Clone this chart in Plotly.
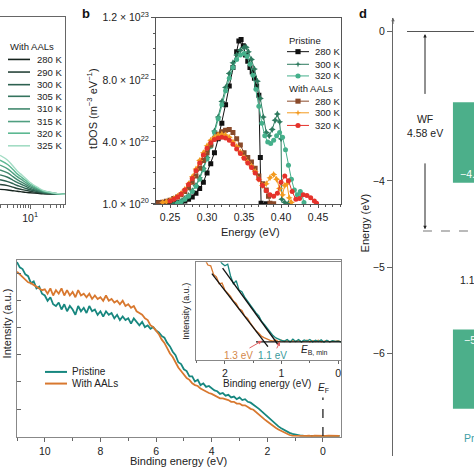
import numpy as np
import plotly.graph_objects as go

W = H = 474
FONT = "Liberation Sans, Arial, sans-serif"


def px(x):
    return x / W


def py(y):
    return 1 - y / H


# ---------------- panel a (only right part visible) ----------------
a_time = [2, 3, 4, 5, 6, 8, 10, 15, 20, 30, 40, 50, 65]
a_labels = ["280 K", "290 K", "300 K", "305 K", "310 K", "315 K", "320 K", "325 K"]
a_280 = [0.078, 0.075, 0.071, 0.068, 0.066, 0.062, 0.060, 0.057, 0.055, 0.053, 0.053, 0.052, 0.052]
a_290 = [0.104, 0.098, 0.090, 0.083, 0.079, 0.073, 0.068, 0.061, 0.057, 0.055, 0.053, 0.052, 0.052]
a_300 = [0.130, 0.120, 0.109, 0.099, 0.093, 0.083, 0.076, 0.066, 0.060, 0.056, 0.054, 0.053, 0.052]
a_305 = [0.156, 0.143, 0.127, 0.115, 0.107, 0.094, 0.084, 0.071, 0.063, 0.058, 0.054, 0.053, 0.052]
a_310 = [0.182, 0.166, 0.146, 0.130, 0.120, 0.104, 0.091, 0.075, 0.065, 0.059, 0.055, 0.053, 0.052]
a_315 = [0.208, 0.188, 0.165, 0.146, 0.134, 0.114, 0.099, 0.080, 0.068, 0.060, 0.056, 0.054, 0.052]
a_320 = [0.234, 0.211, 0.184, 0.161, 0.147, 0.125, 0.107, 0.084, 0.070, 0.062, 0.056, 0.054, 0.052]
a_325 = [0.260, 0.234, 0.203, 0.177, 0.161, 0.135, 0.115, 0.089, 0.073, 0.063, 0.057, 0.054, 0.052]
a_series = [a_280, a_290, a_300, a_305, a_310, a_315, a_320, a_325]
a_colors = ["#16241e", "#27443a", "#2d6150", "#35735e", "#43896f", "#4f9f80", "#5cb892", "#a3dcc4"]

# ---------------- panel b (tDOS, units of 1e22) ----------------
b_p280_E = [0.230, 0.235, 0.240, 0.245, 0.250, 0.255, 0.260, 0.265, 0.270, 0.275, 0.280, 0.285, 0.290,
            0.295, 0.300, 0.305, 0.310, 0.315, 0.320, 0.325, 0.330, 0.335, 0.340, 0.343, 0.346, 0.349,
            0.352, 0.355, 0.358, 0.361, 0.364, 0.367, 0.370, 0.372, 0.373, 0.380]
b_p280_v = [0.08, 0.08, 0.06, 0.05, 0.05, 0.06, 0.08, 0.12, 0.2, 0.3, 0.45, 0.7, 1.0,
            1.4, 2.0, 2.6, 3.3, 4.2, 5.2, 6.4, 7.6, 8.8, 9.8, 10.5, 10.6, 10.2,
            9.6, 9.2, 8.8, 8.5, 8.1, 7.6, 7.0, 3.0, 0.05, 0.02]
b_p300_E = [0.255, 0.260, 0.265, 0.270, 0.275, 0.280, 0.285, 0.290, 0.295, 0.300, 0.305, 0.310, 0.315,
            0.320, 0.325, 0.330, 0.335, 0.340, 0.345, 0.350, 0.353, 0.356, 0.360, 0.364, 0.368, 0.372,
            0.376, 0.380, 0.384, 0.388, 0.392, 0.395, 0.398, 0.400, 0.401, 0.405, 0.410]
b_p300_v = [0.02, 0.08, 0.2, 0.35, 0.55, 0.85, 1.2, 1.7, 2.3, 3.0, 3.8, 4.7, 5.6,
            6.6, 7.5, 8.4, 9.1, 9.6, 9.9, 10.1, 10.1, 9.8, 9.3, 8.7, 7.9, 6.8,
            5.6, 4.6, 4.4, 4.8, 5.4, 5.8, 5.3, 4.2, 0.3, 0.1, 0.05]
b_p320_E = [0.260, 0.265, 0.270, 0.275, 0.280, 0.285, 0.290, 0.295, 0.300, 0.305, 0.310, 0.315, 0.320,
            0.325, 0.330, 0.335, 0.340, 0.345, 0.350, 0.354, 0.358, 0.362, 0.366, 0.370, 0.374, 0.378,
            0.382, 0.386, 0.390, 0.394, 0.398, 0.402, 0.406, 0.410, 0.414, 0.418, 0.422, 0.426, 0.428, 0.431]
b_p320_v = [0.05, 0.15, 0.3, 0.5, 0.8, 1.15, 1.6, 2.2, 2.9, 3.7, 4.6, 5.5, 6.4,
            7.3, 8.1, 8.8, 9.3, 9.6, 9.7, 9.5, 9.0, 8.3, 7.4, 6.3, 5.2, 4.4,
            4.0, 3.9, 4.1, 4.4, 4.6, 4.3, 3.5, 2.5, 1.6, 0.9, 0.6, 0.8, 0.6, 0.1]
b_a280_E = [0.230, 0.235, 0.240, 0.245, 0.250, 0.255, 0.260, 0.265, 0.270, 0.275, 0.280, 0.285, 0.290,
            0.295, 0.300, 0.305, 0.310, 0.315, 0.320, 0.325, 0.330, 0.335, 0.340, 0.345, 0.350, 0.355,
            0.360, 0.365, 0.370, 0.375, 0.380, 0.383, 0.385, 0.390]
b_a280_v = [0.05, 0.08, 0.12, 0.18, 0.25, 0.35, 0.45, 0.6, 0.8, 1.05, 1.4, 1.8, 2.3,
            2.8, 3.3, 3.8, 4.2, 4.5, 4.65, 4.75, 4.8, 4.6, 4.2, 3.8, 3.3, 3.0,
            2.7, 2.3, 1.8, 1.3, 0.9, 0.5, 0.05, 0.02]
b_a300_E = [0.240, 0.245, 0.250, 0.255, 0.260, 0.265, 0.270, 0.275, 0.280, 0.285, 0.290, 0.295, 0.300,
            0.305, 0.310, 0.315, 0.320, 0.325, 0.330, 0.335, 0.340, 0.345, 0.350, 0.355, 0.360, 0.365,
            0.370, 0.375, 0.380, 0.385, 0.390, 0.394, 0.398, 0.402, 0.405, 0.408, 0.411, 0.414]
b_a300_v = [0.1, 0.15, 0.25, 0.35, 0.5, 0.7, 0.95, 1.3, 1.75, 2.25, 2.8, 3.3, 3.75,
            4.1, 4.3, 4.45, 4.5, 4.45, 4.3, 4.0, 3.7, 3.35, 3.0, 2.7, 2.45, 2.1,
            1.6, 1.2, 1.3, 1.7, 1.9, 1.6, 1.0, 0.6, 1.2, 1.3, 0.4, 0.1]
b_a320_E = [0.250, 0.255, 0.260, 0.265, 0.270, 0.275, 0.280, 0.285, 0.290, 0.295, 0.300, 0.305, 0.310,
            0.315, 0.320, 0.325, 0.330, 0.335, 0.340, 0.345, 0.350, 0.355, 0.360, 0.365, 0.370, 0.375,
            0.380, 0.385, 0.390, 0.395, 0.400, 0.405, 0.410, 0.415, 0.420, 0.425, 0.430, 0.435, 0.440,
            0.445, 0.448]
b_a320_v = [0.2, 0.3, 0.45, 0.65, 0.9, 1.25, 1.65, 2.15, 2.65, 3.15, 3.6, 3.95, 4.15,
            4.25, 4.3, 4.25, 4.1, 3.85, 3.55, 3.25, 2.95, 2.65, 2.35, 2.0, 1.6, 1.2,
            0.85, 0.6, 0.5, 0.7, 1.4, 1.8, 1.5, 0.8, 0.3, 0.35, 0.6, 0.55, 0.4,
            0.2, 0.05]
b_ticks = [0.01, 4, 8, 12]
b_ticktext = ["1.0 × 10<sup>20</sup>", "4.0 × 10<sup>22</sup>", "8.0 × 10<sup>22</sup>", "1.2 × 10<sup>23</sup>"]

# ---------------- panel c (UPS spectra, 0.1 eV grid from 11.0 eV) ----------------
c_pristine = [0.99, 0.96, 0.95, 0.92, 0.91, 0.87, 0.88, 0.84, 0.85, 0.81,
              0.80, 0.77, 0.79, 0.75, 0.74, 0.76, 0.72, 0.75, 0.71, 0.74,
              0.72, 0.69, 0.74, 0.71, 0.73, 0.70, 0.74, 0.71, 0.72, 0.69,
              0.71, 0.68, 0.71, 0.69, 0.70, 0.67, 0.69, 0.66, 0.68, 0.66,
              0.67, 0.64, 0.67, 0.65, 0.63, 0.65, 0.62, 0.63, 0.61, 0.62,
              0.60, 0.59, 0.57, 0.56, 0.53, 0.51, 0.48, 0.46, 0.42, 0.41,
              0.38, 0.37, 0.34, 0.34, 0.31, 0.32, 0.29, 0.30, 0.28, 0.285,
              0.27, 0.26, 0.255, 0.24, 0.245, 0.23, 0.235, 0.22, 0.225, 0.21,
              0.22, 0.205, 0.21, 0.195, 0.19, 0.18, 0.165, 0.155, 0.14, 0.125,
              0.11, 0.095, 0.08, 0.065, 0.055, 0.045, 0.035, 0.025, 0.018, 0.012,
              0.008, 0.005, 0.003, 0.002,
              0.002, 0.0, 0.001, 0.0, 0.002, 0.001, 0.0, 0.001, 0.002, 0.0, 0.001, 0.0, 0.001]
c_aals = [0.935, 0.92, 0.90, 0.89, 0.875, 0.87, 0.86, 0.85, 0.84, 0.83,
          0.835, 0.81, 0.84, 0.80, 0.83, 0.81, 0.84, 0.80, 0.83, 0.80,
          0.82, 0.79, 0.83, 0.80, 0.81, 0.79, 0.81, 0.78, 0.80, 0.78,
          0.79, 0.77, 0.80, 0.77, 0.78, 0.76, 0.77, 0.75, 0.77, 0.74,
          0.75, 0.73, 0.74, 0.71, 0.70, 0.69, 0.67, 0.66, 0.63, 0.62,
          0.60, 0.58, 0.55, 0.53, 0.50, 0.47, 0.45, 0.42, 0.39, 0.37,
          0.35, 0.33, 0.32, 0.30, 0.29, 0.285, 0.27, 0.26, 0.25, 0.245,
          0.24, 0.23, 0.225, 0.215, 0.215, 0.21, 0.205, 0.195, 0.195, 0.185,
          0.185, 0.175, 0.175, 0.165, 0.155, 0.15, 0.135, 0.12, 0.11, 0.095,
          0.083, 0.07, 0.058, 0.047, 0.037, 0.03, 0.02, 0.012, 0.006, 0.003,
          0.002, 0.003, 0.001, 0.002,
          0.001, 0.003, 0.0, 0.002, 0.001, 0.002, 0.0, 0.001, 0.002, 0.001, 0.0, 0.002, 0.001]
c_be = np.round(11.0 - 0.1 * np.arange(len(c_pristine)), 2)
c_ticks = [0, 2, 4, 6, 8, 10]

# inset (0.05 eV grid from 2.5 eV)
i_pristine = [1.4, 1.35, 1.3, 1.25, 1.2, 1.15, 1.12, 1.08, 1.05, 1.0,
              0.97, 0.99, 0.84, 0.74, 0.78, 0.66, 0.64, 0.57, 0.52, 0.46,
              0.42, 0.37, 0.33, 0.26, 0.22, 0.17, 0.12, 0.08, 0.05, 0.03, 0.02,
              0.01, 0.03, 0.0, 0.035, 0.005, 0.03, 0.0, 0.025, 0.01, 0.03,
              0.0, 0.02, 0.005, 0.025, -0.005, 0.02, 0.0, 0.015, 0.005, 0.01, 0.0]
i_aals = [1.25, 1.18, 1.1, 1.05, 0.98, 0.97, 0.86, 0.83, 0.74, 0.75,
          0.66, 0.62, 0.58, 0.52, 0.49, 0.42, 0.40, 0.33, 0.30, 0.24,
          0.19, 0.14, 0.11, 0.07, 0.05, 0.03, 0.02, 0.01, 0.025, 0.0, 0.02,
          0.005, 0.02, 0.0, 0.015, 0.005, 0.02, 0.0, 0.01, 0.02, 0.0,
          0.015, 0.005, 0.02, 0.0, 0.01, 0.015, 0.0, 0.01, 0.005, 0.015, 0.0]
i_be = np.round(2.5 - 0.05 * np.arange(len(i_pristine)), 3)
i_fit_pristine_E = [2.04, 1.06]
i_fit_pristine_v = [0.94, -0.037]
i_fit_aals_E = [2.23, 1.24]
i_fit_aals_v = [0.87, -0.06]
i_base_E = [1.45, -0.05]
i_base_v = [0.0, 0.0]

# ---------------- panel d (energy levels, eV) ----------------
d_vacuum = 0.0
d_fermi = -4.58
d_lumo = -4.02
d_homo = -5.72
d_ticks = [0, -4, -5, -6]


def disp(e):
    # broken axis: 0..-4 compressed
    if e >= -4:
        return -4 + (e + 4) * 0.4325
    return e


TEAL = "#17877f"
ORANGE = "#d8782f"
GREEN_BOX = "#4caf8a"

fig = go.Figure()

# panel a traces
for vals, col in zip(a_series, a_colors):
    fig.add_trace(go.Scatter(x=a_time, y=vals, mode="lines", line=dict(color=col, width=1.4, shape="spline"),
                             xaxis="x", yaxis="y", showlegend=False, hoverinfo="skip"))

# panel b traces
b_specs = [
    (b_p280_E, b_p280_v, "#111111", "square"),
    (b_p300_E, b_p300_v, "#2d7a5e", "star-diamond"),
    (b_p320_E, b_p320_v, "#45b08b", "circle"),
    (b_a280_E, b_a280_v, "#8a4a2a", "square"),
    (b_a300_E, b_a300_v, "#f39a1f", "star-diamond"),
    (b_a320_E, b_a320_v, "#e5322b", "circle"),
]
for E, v, col, sym in b_specs:
    fig.add_trace(go.Scatter(x=E, y=v, mode="lines+markers", line=dict(color=col, width=1),
                             marker=dict(symbol=sym, size=5, color=col, line=dict(width=0)),
                             xaxis="x2", yaxis="y2", showlegend=False, hoverinfo="skip"))

# panel c traces
fig.add_trace(go.Scatter(x=c_be, y=c_pristine, mode="lines", line=dict(color=TEAL, width=1.8),
                         xaxis="x3", yaxis="y3", showlegend=False, hoverinfo="skip"))
fig.add_trace(go.Scatter(x=c_be, y=c_aals, mode="lines", line=dict(color=ORANGE, width=1.8),
                         xaxis="x3", yaxis="y3", showlegend=False, hoverinfo="skip"))
fig.add_trace(go.Scatter(x=[0, 0], y=[0, 0.22], mode="lines", line=dict(color="#222", width=1.3, dash="dash"),
                         xaxis="x3", yaxis="y3", showlegend=False, hoverinfo="skip"))

# inset traces
fig.add_trace(go.Scatter(x=i_be, y=i_aals, mode="lines", line=dict(color=ORANGE, width=1.3),
                         xaxis="x4", yaxis="y4", showlegend=False, hoverinfo="skip"))
fig.add_trace(go.Scatter(x=i_be, y=i_pristine, mode="lines", line=dict(color=TEAL, width=1.3),
                         xaxis="x4", yaxis="y4", showlegend=False, hoverinfo="skip"))
for E, v in [(i_fit_pristine_E, i_fit_pristine_v), (i_fit_aals_E, i_fit_aals_v), (i_base_E, i_base_v)]:
    fig.add_trace(go.Scatter(x=E, y=v, mode="lines", line=dict(color="#111", width=1.3),
                             xaxis="x4", yaxis="y4", showlegend=False, hoverinfo="skip"))

fig.add_trace(go.Scatter(x=[0], y=[disp(0)], mode="markers", marker=dict(size=1, color="rgba(0,0,0,0)"),
                         xaxis="x5", yaxis="y5", showlegend=False, hoverinfo="skip"))

AX = dict(showgrid=False, zeroline=False, tickfont=dict(family=FONT, size=10.5, color="#222"))

fig.update_layout(
    width=W, height=H, margin=dict(l=0, r=0, t=0, b=0),
    paper_bgcolor="white", plot_bgcolor="rgba(0,0,0,0)",
    font=dict(family=FONT, size=10.5, color="#222"),
    xaxis=dict(AX, domain=[0, px(65)], type="log", range=[0.3, 1.81], anchor="y",
               showline=True, linecolor="#666", linewidth=1, mirror=True,
               ticks="outside", ticklen=4, tickcolor="#666", tickvals=[10], ticktext=["10<sup>1</sup>"],
               minor=dict(ticks="outside", ticklen=2.5, tickcolor="#666",
                          tickvals=[2, 3, 4, 5, 6, 7, 8, 9, 20, 30, 40, 50, 60])),
    yaxis=dict(AX, domain=[py(202), py(9)], range=[0, 1], anchor="x", showline=True, linecolor="#666",
               mirror=True, showticklabels=False, ticks=""),
    xaxis2=dict(AX, domain=[px(156), px(341)], range=[0.231, 0.481], anchor="y2",
                showline=True, linecolor="#555", mirror=True, ticks="outside", ticklen=3, tickcolor="#555",
                tick0=0.25, dtick=0.05, tickformat=".2f",
                minor=dict(ticks="outside", ticklen=2, tickcolor="#555", tick0=0.25, dtick=0.01)),
    yaxis2=dict(AX, domain=[py(202), py(10)], range=[0, 12], anchor="x2",
                showline=True, linecolor="#555", mirror=True, ticks="outside", ticklen=4, tickcolor="#555",
                tickvals=b_ticks, ticktext=b_ticktext,
                minor=dict(ticks="outside", ticklen=2, tickcolor="#555", tick0=0, dtick=1)),
    xaxis3=dict(AX, domain=[px(17), px(341)], range=[11.0, -0.65], anchor="y3",
                showline=True, linecolor="#888", mirror=True, ticks="outside", ticklen=4, tickcolor="#666",
                tickvals=c_ticks,
                minor=dict(ticks="outside", ticklen=3, tickcolor="#666", tickvals=[1, 3, 5, 7, 9, 11])),
    yaxis3=dict(AX, domain=[py(442), py(260)], range=[-0.005, 1.0], anchor="x3",
                showline=True, linecolor="#888", mirror=True, ticks="inside", ticklen=4, tickcolor="#666",
                showticklabels=False, tick0=0, dtick=0.154),
    xaxis4=dict(AX, domain=[px(196), px(341)], range=[2.51, -0.05], anchor="y4",
                showline=True, linecolor="#888", mirror=True, ticks="outside", ticklen=3, tickcolor="#666",
                tickvals=[2, 1, 0],
                minor=dict(ticks="outside", ticklen=2, tickcolor="#666", tickvals=[2.5, 1.5, 0.5])),
    yaxis4=dict(AX, domain=[py(363), py(262)], range=[-0.235, 1.015], anchor="x4",
                showline=True, linecolor="#888", mirror=True, ticks="", showticklabels=False),
    xaxis5=dict(domain=[px(393), 1], range=[0, 1], anchor="y5", visible=False),
    yaxis5=dict(AX, domain=[py(462), py(10)], range=[-7.19, -2.11], anchor="x5",
                showline=True, linecolor="#666", linewidth=1.2, ticks="outside", ticklen=5, tickcolor="#666",
                tickvals=[disp(t) for t in d_ticks], ticktext=["0", "−4", "−5", "−6"]),
)

shapes = []
annotations = []


def ann(x, y, text, size=10.5, color="#222", xanchor="center", yanchor="middle", **kw):
    annotations.append(dict(xref="paper", yref="paper", x=px(x), y=py(y), text=text, showarrow=False,
                            font=dict(family=FONT, size=size, color=color), xanchor=xanchor,
                            yanchor=yanchor, **kw))


# panel labels
ann(86, 6, "<b>b</b>", size=13, color="#111")
ann(363, 6, "<b>d</b>", size=13, color="#111")

# panel a legend
ann(8, 40, "With AALs", size=9.5, xanchor="left")
a_leg_y = [53, 66, 79, 91, 104, 117, 129, 142]
for lab, col, yy in zip(a_labels, a_colors, a_leg_y):
    shapes.append(dict(type="line", xref="paper", yref="paper", x0=px(8), x1=px(30), y0=py(yy), y1=py(yy),
                       line=dict(color=col, width=1.6)))
    ann(35, yy, lab, size=9.5, xanchor="left")

# panel b legend
ann(287, 33, "Pristine", size=9.5, xanchor="left")
ann(287, 83, "With AALs", size=9.5, xanchor="left")
b_leg_y = [45, 58, 70, 96, 108, 121]
b_leg_lab = ["280 K", "300 K", "320 K", "280 K", "300 K", "320 K"]
for (E, v, col, sym), yy, lab in zip(b_specs, b_leg_y, b_leg_lab):
    shapes.append(dict(type="line", xref="paper", yref="paper", x0=px(287), x1=px(309), y0=py(yy), y1=py(yy),
                       line=dict(color=col, width=1)))
    cx, r = 298, 2.6
    if sym == "square":
        shapes.append(dict(type="rect", xref="paper", yref="paper", x0=px(cx - r), x1=px(cx + r),
                           y0=py(yy + r), y1=py(yy - r), fillcolor=col, line=dict(width=0)))
    elif sym == "circle":
        shapes.append(dict(type="circle", xref="paper", yref="paper", x0=px(cx - r), x1=px(cx + r),
                           y0=py(yy + r), y1=py(yy - r), fillcolor=col, line=dict(width=0)))
    else:
        q = r + 0.6
        s = 0.8
        path = (f"M {px(cx)} {py(yy - q)} L {px(cx + s)} {py(yy - s)} L {px(cx + q)} {py(yy)} "
                f"L {px(cx + s)} {py(yy + s)} L {px(cx)} {py(yy + q)} L {px(cx - s)} {py(yy + s)} "
                f"L {px(cx - q)} {py(yy)} L {px(cx - s)} {py(yy - s)} Z")
        shapes.append(dict(type="path", xref="paper", yref="paper", path=path, fillcolor=col,
                           line=dict(width=0)))
    ann(313, yy, lab, size=9.5, xanchor="left")

# panel b axis titles
ann(250, 231, "Energy (eV)", size=11)
ann(92, 104, "tDOS (m<sup>−3</sup> eV<sup>−1</sup>)", size=11, textangle=-90)

# panel c legend + titles
for yy, col, lab in [(375, TEAL, "Pristine"), (387, ORANGE, "With AALs")]:
    shapes.append(dict(type="line", xref="paper", yref="paper", x0=px(45), x1=px(67), y0=py(yy), y1=py(yy),
                       line=dict(color=col, width=2)))
    ann(70, yy, lab, size=10, xanchor="left")
ann(178, 467, "Binding energy (eV)", size=11)
ann(7, 325, "Intensity (a.u.)", size=11, textangle=-90)
ann(323, 392, "<i>E</i><sub>F</sub>", size=10)

# inset texts
ann(186, 313, "Intensity (a.u.)", size=9, textangle=-90)
ann(267, 387, "Binding energy (eV)", size=10)
ann(238, 358, "1.3 eV", size=10, color="#d4884a")
ann(272, 358, "1.1 eV", size=10, color="#3a9a9a")
ann(299, 352, "<i>E</i><sub>B, min</sub>", size=10, xanchor="left")
annotations.append(dict(xref="paper", yref="paper", x=px(262), y=py(343), ax=-14, ay=8, text="",
                        showarrow=True, arrowhead=2, arrowsize=0.8, arrowwidth=1, arrowcolor="#e06060"))
annotations.append(dict(xref="paper", yref="paper", x=px(280), y=py(344), ax=-4, ay=8, text="",
                        showarrow=True, arrowhead=2, arrowsize=0.8, arrowwidth=1, arrowcolor="#e06060"))

# panel d shapes/text
shapes.append(dict(type="line", xref="x5", yref="y5", x0=0.173, x1=1.0, y0=disp(d_vacuum), y1=disp(d_vacuum),
                   line=dict(color="#555", width=1.2)))
shapes.append(dict(type="line", xref="x5", yref="y5", x0=0.37, x1=1.0, y0=disp(d_fermi), y1=disp(d_fermi),
                   line=dict(color="#777", width=1.1, dash="dash")))
shapes.append(dict(type="rect", xref="x5", yref="y5", x0=0.74, x1=1.05, y0=disp(d_lumo), y1=disp(d_lumo) + 0.93,
                   fillcolor=GREEN_BOX, line=dict(width=0)))
shapes.append(dict(type="rect", xref="x5", yref="y5", x0=0.74, x1=1.05, y0=disp(d_homo), y1=disp(d_homo) - 0.92,
                   fillcolor=GREEN_BOX, line=dict(width=0)))
annotations.append(dict(xref="x5", yref="y5", x=0.395, y=disp(d_vacuum) - 0.03, ax=0.395, ay=-3.01,
                        axref="x5", ayref="y5", text="", showarrow=True, arrowhead=2, arrowsize=0.7,
                        arrowwidth=1, arrowcolor="#222"))
annotations.append(dict(xref="x5", yref="y5", x=0.395, y=disp(d_fermi) + 0.02, ax=0.395, ay=-3.78,
                        axref="x5", ayref="y5", text="", showarrow=True, arrowhead=2, arrowsize=0.7,
                        arrowwidth=1, arrowcolor="#222"))
annotations.append(dict(xref="x5", yref="y5", x=0.0, y=-2.11, ax=0.0, ay=-2.2,
                        axref="x5", ayref="y5", text="", showarrow=True, arrowhead=2, arrowsize=0.7,
                        arrowwidth=1, arrowcolor="#666"))
annotations.append(dict(xref="x5", yref="y5", x=0.395, y=-3.36, text="WF<br>4.58 eV", showarrow=False,
                        font=dict(family=FONT, size=10.5, color="#222")))
annotations.append(dict(xref="x5", yref="y5", x=0.80, y=disp(d_lumo) + 0.1, text="−4.02", showarrow=False,
                        xanchor="left", font=dict(family=FONT, size=10.5, color="white")))
annotations.append(dict(xref="x5", yref="y5", x=0.85, y=disp(d_homo) - 0.12, text="−5.72", showarrow=False,
                        xanchor="left", font=dict(family=FONT, size=10.5, color="white")))
annotations.append(dict(xref="x5", yref="y5", x=0.80, y=(d_fermi + d_homo) / 2, text="1.14 eV",
                        showarrow=False, xanchor="left", font=dict(family=FONT, size=10.5, color="#222")))
annotations.append(dict(xref="x5", yref="y5", x=0.85, y=-6.98, text="Pristine", showarrow=False,
                        xanchor="left", font=dict(family=FONT, size=10.5, color="#3f9ea6")))
ann(365, 222, "Energy (eV)", size=11, textangle=-90)

fig.update_layout(shapes=shapes, annotations=annotations)

fig.write_html("out.html", config={"displayModeBar": False},
               post_script="document.body.style.margin='0';")
